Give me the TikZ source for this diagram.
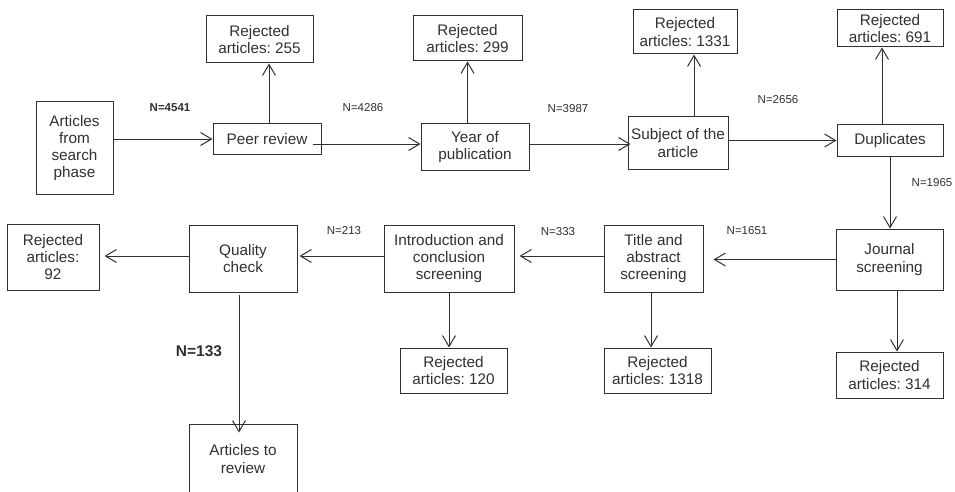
\documentclass[tikz,border=0pt]{standalone}
\usepackage{fontspec}
\setmainfont{Liberation Sans}
\usetikzlibrary{arrows.meta}
\definecolor{ink}{HTML}{303030}
\frenchspacing
\tikzset{
  box/.style={draw=ink, line width=1pt, text=ink, font=\fontsize{15.3}{17.3}\selectfont,
    align=center, inner sep=0pt, anchor=center},
  arr/.style={draw=ink, line width=1pt, -{Straight Barb[length=11pt,width=13pt,line width=1pt]}},
  nlab/.style={text=ink, font=\fontsize{11.5}{13}\selectfont, inner sep=0pt},
  nbold/.style={text=ink, font=\fontsize{11.5}{13}\selectfont\bfseries, inner sep=0pt},
}
\newcommand{\bx}[6]{\node[box, minimum width=#4pt, minimum height=#5pt] (#1) at (#2,#3) {#6};}
\begin{document}
\begin{tikzpicture}[x=1pt,y=-1pt]
\useasboundingbox (0,0) rectangle (955,492);
\clip (0,0) rectangle (955,492);
% top row
\bx{src}{74.5}{148}{77}{92}{Articles\\from\\search\\phase}
\bx{peer}{267}{139}{108}{30}{Peer review}
\bx{r255}{259.5}{39.5}{107}{47}{Rejected\\articles: 255}
\bx{year}{475}{147}{108}{46}{Year of\\publication}
\bx{r299}{467.5}{38.5}{109}{45}{Rejected\\articles: 299}
\bx{subj}{678}{143}{100}{52}{Subject of the\\article}
\bx{r1331}{685}{32}{104}{44}{Rejected\\articles: 1331}
\bx{dup}{890}{140.5}{106}{31}{Duplicates}
\bx{r691}{890}{28.5}{106}{37}{Rejected\\articles: 691}
% second row
\bx{jour}{889.5}{259.5}{107}{61}{Journal\\screening}
\bx{r314}{889.5}{375}{107}{46}{Rejected\\articles: 314}
\bx{title}{653.5}{258.5}{99}{67}{Title and\\abstract\\screening}
\bx{r1318}{657.5}{370.5}{107}{45}{Rejected\\articles: 1318}
\bx{intro}{449}{258.5}{130}{67}{Introduction and\\conclusion\\screening}
\bx{r120}{453.5}{370.5}{107}{45}{Rejected\\articles: 120}
\bx{qual}{243}{258.5}{108}{67}{Quality\\check}
\bx{r92}{53}{257}{92}{66}{Rejected\\articles:\\92}
\bx{rev}{243}{459}{108}{70}{Articles to\\review}
% connectors top row
\draw[arr] (src.east |- peer.west) -- (peer.west);
\draw[arr] ([xshift=-9pt,yshift=-5pt]peer.east) coordinate (a1) -- (a1 -| year.west);
\draw[arr] ([yshift=3pt]year.east) coordinate (a2) -- ([xshift=3pt]a2 -| subj.west);
\draw[arr] (subj.east |- dup.west) -- (dup.west);
\draw[arr] ([xshift=2pt]peer.north) coordinate (u1) -- (u1 |- r255.south);
\draw[arr] (r299.south |- year.north) -- (r299.south);
\draw[arr] ([xshift=16pt]subj.north) coordinate (u3) -- (u3 |- r1331.south);
\draw[arr] ([xshift=-8pt]dup.north) coordinate (u4) -- (u4 |- r691.south);
% right column and second row
\draw[arr] (dup.south) -- (dup.south |- jour.north);
\draw[arr] ([xshift=7.5pt]jour.south) coordinate (d1) -- (d1 |- r314.north);
\draw[arr] (jour.west) -- ([xshift=10pt]title.east |- jour.west);
\draw[arr] ([xshift=-2.5pt]title.south) coordinate (d2) -- (d2 |- r1318.north);
\draw[arr] ([yshift=2.5pt]title.west) coordinate (l1) -- ([xshift=5pt]l1 -| intro.east);
\draw[arr] (intro.south) -- (intro.south |- r120.north);
\draw[arr] ([yshift=2.5pt]intro.west) coordinate (l2) -- ([xshift=2pt]l2 -| qual.east);
\draw[arr] ([yshift=2.5pt]qual.west) coordinate (l3) -- ([xshift=5pt]l3 -| r92.east);
\draw[arr] ([xshift=-4pt,yshift=-2pt]qual.south) coordinate (d3) -- ([yshift=-9pt]d3 |- rev.north);
% labels
\node[nbold] (n4541) at (170,108) {N=4541};
\node[nlab] (n4286) at (363,108) {N=4286};
\node[nlab] (n3987) at (568,109) {N=3987};
\node[nlab] (n2656) at (778,100) {N=2656};
\node[nlab] (n1965) at (932,183) {N=1965};
\node[nlab] (n1651) at (747,231) {N=1651};
\node[nlab] (n333) at (558,232) {N=333};
\node[nlab] (n213) at (344,231) {N=213};
\node[text=ink, font=\fontsize{15.5}{18}\selectfont\bfseries, inner sep=0pt] (n133) at (199,351) {N=133};
\end{tikzpicture}
\end{document}
